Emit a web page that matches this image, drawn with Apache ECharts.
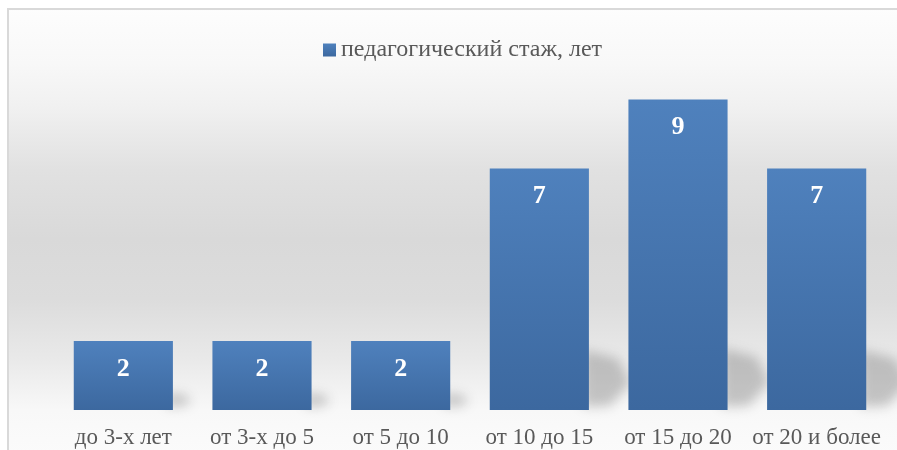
<!DOCTYPE html>
<html>
<head>
<meta charset="utf-8">
<script src="https://cdn.jsdelivr.net/npm/echarts@6/dist/echarts.min.js"></script>
<style>html,body{margin:0;padding:0;background:#fff;}#c{width:897px;height:450px;}</style>
</head>
<body>
<div id="c"></div>
<script>
const categories = ['до 3-х лет', 'от 3-х до 5', 'от 5 до 10', 'от 10 до 15', 'от 15 до 20', 'от 20 и более'];
const values = [2, 2, 2, 7, 9, 7];
const seriesName = 'педагогический стаж, лет';

const chart = echarts.init(document.getElementById('c'), null, {renderer: 'canvas'});
const serif = '"Liberation Serif", "DejaVu Serif", serif';
const OFF = 3000;

chart.setOption({
  animation: false,
  graphic: [
    {
      type: 'rect', z: -10, silent: true,
      shape: {x: 8, y: 9, width: 900, height: 460},
      style: {
        fill: new echarts.graphic.LinearGradient(0, 0, 0, 1, [
          {offset: 0, color: '#fdfdfd'},
          {offset: 0.12, color: '#f8f8f8'},
          {offset: 0.22, color: '#f0f0f0'},
          {offset: 0.35, color: '#e1e1e1'},
          {offset: 0.5, color: '#d9d9d9'},
          {offset: 0.63, color: '#dcdcdc'},
          {offset: 0.76, color: '#e9e9e9'},
          {offset: 0.87, color: '#f8f8f8'},
          {offset: 1, color: '#fcfcfc'}
        ]),
        stroke: '#d9d9d9', lineWidth: 2
      }
    }
  ],
  legend: {
    data: [seriesName],
    left: 318, top: 33,
    itemWidth: 13, itemHeight: 13,
    icon: 'rect',
    textStyle: {fontFamily: serif, fontSize: 24, color: '#595959'}
  },
  grid: {left: 54, right: 11, top: 65, bottom: 40},
  xAxis: {
    type: 'category',
    data: categories,
    axisLine: {show: false},
    axisTick: {show: false},
    axisLabel: {fontFamily: serif, fontSize: 23, color: '#595959', margin: 16, interval: 0}
  },
  yAxis: {
    type: 'value', min: 0, max: 10,
    show: false,
    splitLine: {show: false}
  },
  series: [
    {
      type: 'custom',
      silent: true,
      z: 1,
      renderItem: function (params, api) {
        const idx = api.value(0);
        const v = api.value(1);
        const base = api.coord([idx, 0]);
        const top = api.coord([idx, v]);
        const bw = api.size([1, 0])[0] * 0.715;
        const right = base[0] + bw / 2 - OFF;
        const h = base[1] - top[1];
        const dx = Math.min(h * 0.15 + 8, 42);
        const dy = Math.min(h * 0.25, 62);
        return {
          type: 'polygon',
          shape: {points: [
            [right - 6, base[1] - dy],
            [right + dx * 0.7, base[1] - dy * 0.85],
            [right + dx, base[1] - dy * 0.45],
            [right + dx * 0.5, base[1] - 4],
            [right - 6, base[1] - 3]
          ]},
          style: {
            fill: '#888',
            shadowBlur: 12,
            shadowColor: 'rgba(120,120,120,0.4)',
            shadowOffsetX: OFF,
            shadowOffsetY: 0
          }
        };
      },
      data: values.map((v, i) => [i, v])
    },
    {
      name: seriesName,
      type: 'bar',
      z: 3,
      data: values,
      barCategoryGap: '28.5%',
      itemStyle: {
        color: new echarts.graphic.LinearGradient(0, 0, 0, 1, [
          {offset: 0, color: '#4f81bd'},
          {offset: 1, color: '#3c689f'}
        ])
      },
      label: {
        show: true,
        position: 'insideTop',
        distance: 15,
        fontFamily: serif,
        fontWeight: 'bold',
        fontSize: 26,
        color: '#ffffff'
      }
    }
  ]
});
</script>
</body>
</html>
